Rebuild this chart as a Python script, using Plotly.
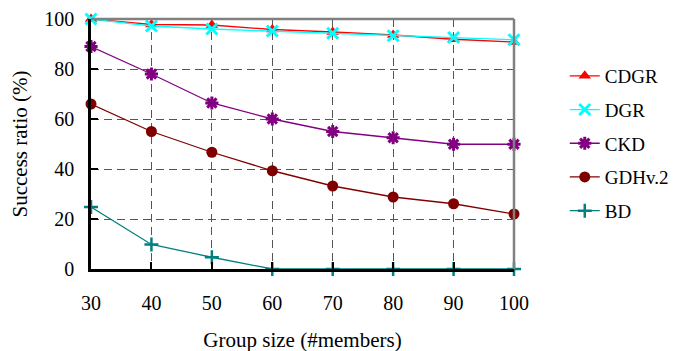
import plotly.graph_objects as go

group_size = [30, 40, 50, 60, 70, 80, 90, 100]
cdgr = [100, 97.8, 97.6, 95.8, 94.8, 93.6, 91.9, 90.8]
dgr = [100, 97.2, 96.0, 95.2, 94.3, 93.3, 92.6, 91.7]
ckd = [89, 78, 66.4, 60, 55, 52.5, 49.9, 49.9]
gdh = [66, 55, 46.7, 39.3, 33.2, 28.8, 26.1, 22]
bd = [24.8, 9.8, 4.7, 0, 0, 0, 0, 0]

y_ticks = [0, 20, 40, 60, 80, 100]

series = [
    ("CDGR", cdgr, "#ff0000", dict(symbol="triangle-up", size=11)),
    ("DGR", dgr, "#00ffff", dict(symbol="x-thin-open", size=11, line=dict(width=3, color="#00ffff"))),
    ("CKD", ckd, "#800080", dict(symbol="asterisk-open", size=11, line=dict(width=3, color="#800080"))),
    ("GDHv.2", gdh, "#800000", dict(symbol="circle", size=11)),
    ("BD", bd, "#008080", dict(symbol="cross-thin-open", size=10, line=dict(width=2.5, color="#008080"))),
]

fig = go.Figure()
for i, (name, vals, col, mk) in enumerate(series):
    fig.add_trace(go.Scatter(
        x=group_size, y=vals, name=name, mode="lines+markers",
        line=dict(color=col, width=1.3), marker=dict(color=col, **mk),
        legendgroup=f"g{i}", cliponaxis=False,
    ))

font = "Times New Roman, Liberation Serif, DejaVu Serif, serif"
fig.update_layout(
    width=678, height=351,
    margin=dict(l=83, r=172, t=11, b=90, autoexpand=False),
    paper_bgcolor="white", plot_bgcolor="white",
    font=dict(family=font, size=20, color="black"),
    showlegend=True,
    legend=dict(x=1.12, y=0.848, xanchor="left", yanchor="top",
                tracegroupgap=6, font=dict(size=19), bgcolor="rgba(0,0,0,0)"),
    xaxis=dict(range=[30, 100], tickvals=group_size, showgrid=True, automargin=False,
               gridcolor="#555", griddash="8px,5px", gridwidth=1,
               showline=True, linecolor="black", linewidth=2.5,
               ticks="inside", ticklen=7, tickwidth=2, tickcolor="black",
               zeroline=False, ticklabelstandoff=14,
               title=dict(text="Group size (#members)", standoff=20, font=dict(size=21))),
    yaxis=dict(range=[0, 100], tickvals=y_ticks, showgrid=True, automargin=False,
               gridcolor="#555", griddash="8px,5px", gridwidth=1,
               showline=True, linecolor="black", linewidth=2.5,
               ticks="inside", ticklen=7, tickwidth=2, tickcolor="black",
               zeroline=False, ticklabelstandoff=10,
               title=dict(text="Success ratio (%)", standoff=12, font=dict(size=21))),
)
fig.add_shape(type="line", xref="x domain", yref="y domain", x0=0, x1=1, y0=1, y1=1,
              line=dict(color="#808080", width=2.5))
fig.add_shape(type="line", xref="x domain", yref="y domain", x0=1, x1=1, y0=0, y1=1,
              line=dict(color="#808080", width=2.5))
fig.write_html("out.html")
